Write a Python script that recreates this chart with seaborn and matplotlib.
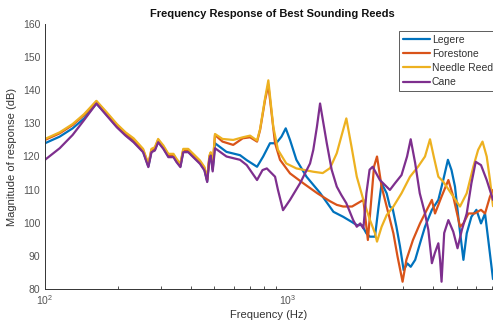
import numpy as np
import pandas as pd
import matplotlib
matplotlib.use("Agg")
import matplotlib.pyplot as plt
import seaborn as sns
from matplotlib.ticker import LogLocator, NullFormatter

# Frequency points (Hz) and magnitudes (dB) for each reed
legere_freq = [100, 115, 130, 145, 163, 180, 198, 215, 232, 254, 267, 275, 284, 293, 308, 323, 339, 349, 362,
               372, 390, 409, 436, 455, 467, 477, 483, 492, 503, 561, 638, 680, 750, 795, 848, 900, 946, 985,
               1026, 1090, 1200, 1365, 1550, 1700, 1840, 1935, 2030, 2120, 2190, 2300, 2380, 2450, 2570, 2650,
               2720, 2820, 2918, 3020, 3130, 3230, 3370, 3529, 3700, 3950, 4200, 4400, 4600, 4760, 4920, 5130,
               5330, 5500, 5750, 6030, 6300, 6545, 6750, 7060]
legere_db = [124, 126, 128.5, 131.5, 136, 132.5, 129, 126.5, 124.5, 121.5, 117, 121.5, 122, 124.5, 122.5, 120,
             120, 118.5, 117, 121.5, 121.5, 120, 118, 116, 112.5, 119.5, 120.5, 116, 124, 121.4, 120.4, 118.9,
             116.9, 120, 124, 124, 126, 128.5, 125, 119, 113.9, 109, 103.3, 101.8, 100.3, 99.3, 99.3, 96.8,
             95.8, 95.8, 104.9, 111.9, 108.9, 104.9, 104.3, 98.8, 92.8, 85.7, 87.7, 86.7, 88.8, 93.8, 98.8,
             103.9, 106.9, 112.9, 119, 115.9, 110.9, 98.8, 88.8, 96.8, 101.8, 103.9, 99.8, 102.8, 94.8, 83]

forestone_freq = [100, 115, 130, 145, 163, 180, 198, 215, 232, 254, 267, 275, 284, 293, 308, 323, 339, 349, 362,
                  372, 390, 409, 436, 455, 467, 477, 483, 492, 503, 540, 598, 655, 702, 750, 772, 809, 835, 890,
                  933, 1026, 1165, 1330, 1500, 1600, 1700, 1850, 2060, 2150, 2280, 2345, 2450, 2570, 2740, 2850,
                  2990, 3100, 3300, 3529, 3700, 3950, 4070, 4330, 4620, 4840, 5160, 5330, 5590, 5930, 6300, 6545,
                  6860, 7060]
forestone_db = [125, 127, 129.5, 132.5, 136.6, 133, 129.5, 127, 125.2, 122, 117.5, 122, 122.5, 125, 123, 120.5,
                120.5, 119, 117.5, 122, 122, 120.5, 118.5, 116.5, 113, 120, 121, 117, 126.5, 124.5, 123.5, 125.5,
                125.8, 124.5, 128, 137, 141.6, 124, 119, 114.9, 111.9, 108.9, 106.5, 105.4, 104.9, 104.9, 106.9,
                94.8, 117, 120, 110.9, 104.9, 96.8, 89.8, 82.2, 88.8, 94.8, 99.8, 102.8, 106.9, 102.8, 107.9,
                112.9, 107.9, 98.8, 99.8, 102.8, 102.8, 103.9, 102.8, 107.9, 109.9]

needle_freq = [100, 115, 130, 145, 163, 180, 198, 215, 232, 254, 267, 275, 284, 293, 308, 323, 339, 349, 362,
               372, 390, 409, 436, 455, 467, 477, 483, 492, 503, 540, 598, 655, 702, 750, 772, 809, 835, 875,
               915, 990, 1090, 1280, 1400, 1501, 1600, 1670, 1752, 1840, 1935, 2060, 2194, 2301, 2345, 2450,
               2570, 2740, 2960, 3209, 3470, 3700, 3880, 4020, 4200, 4400, 4840, 5160, 5500, 5860, 6130, 6390,
               6650, 6860, 7060]
needle_db = [125.3, 127.3, 129.8, 132.8, 136.8, 133.3, 129.8, 127.3, 125.5, 122.3, 117.8, 122.3, 122.8, 125.3,
             123.3, 120.8, 120.8, 119.3, 117.8, 122.3, 122.3, 120.8, 118.8, 116.8, 113.3, 120.3, 121.3, 117.3,
             126.8, 125.3, 125, 125.8, 126.3, 124.8, 128.3, 137.5, 143, 129, 122, 117.9, 116.4, 115.4, 115,
             116.5, 121, 126, 131.5, 123, 113.9, 106.9, 100.8, 96.8, 94.3, 98.8, 102.3, 104.9, 108.9, 113.9,
             117, 120, 125.2, 120, 113.9, 112.4, 107.9, 104.9, 108.9, 117, 122, 124.5, 120, 112.9, 105]

cane_freq = [100, 115, 130, 145, 163, 180, 198, 215, 232, 254, 267, 275, 284, 293, 308, 323, 339, 349, 362,
             372, 390, 409, 436, 455, 467, 477, 483, 492, 503, 561, 638, 680, 750, 790, 823, 890, 915, 960,
             1026, 1128, 1241, 1280, 1325, 1365, 1455, 1524, 1600, 1670, 1752, 1870, 1935, 2000, 2060, 2120,
             2185, 2250, 2410, 2650, 2780, 2960, 3120, 3230, 3370, 3520, 3700, 3820, 3950, 4060, 4200, 4270,
             4330, 4440, 4620, 4840, 5040, 5250, 5500, 5750, 5990, 6300, 6650, 7060]
cane_db = [119, 122.5, 126.5, 131, 136, 132.3, 128.8, 126.3, 124.3, 121.3, 116.8, 121.3, 121.8, 124.3, 122.3,
           119.8, 119.8, 118.3, 116.8, 121.3, 121.3, 119.8, 117.8, 115.8, 112.3, 119.3, 120.3, 115.5, 122.5,
           120, 119, 117.4, 112.9, 115.9, 116.4, 113.9, 109.9, 103.8, 106.9, 111.9, 117.9, 122, 129, 136, 124,
           116, 110.9, 108.4, 105.9, 100.8, 98.8, 99.8, 98.3, 108.9, 116, 116.9, 112.9, 109.9, 111.9, 114.4,
           120, 125.2, 118, 108.9, 102.8, 97.8, 87.8, 90.8, 93.8, 88.8, 82.2, 96.9, 100.8, 97.3, 92.3, 97.8,
           102.8, 111.9, 118.4, 117.4, 112.9, 106.9]

names = ["Legere", "Forestone", "Needle Reed", "Cane"]
colors = ["#0072BD", "#D95319", "#EDB120", "#7E2F8E"]

frames = []
for name, f, db in zip(names,
                       [legere_freq, forestone_freq, needle_freq, cane_freq],
                       [legere_db, forestone_db, needle_db, cane_db]):
    frames.append(pd.DataFrame({"Frequency": f, "Magnitude": db, "Reed": name}))
df = pd.concat(frames, ignore_index=True)

sns.set_theme(style="white")
plt.rcParams["font.family"] = ["Liberation Sans", "DejaVu Sans"]

fig = plt.figure(figsize=(4.93, 3.26), dpi=100)
ax = fig.add_axes([45 / 493, 1 - 289 / 326, 1 - 45 / 493, (289 - 24) / 326])

sns.lineplot(data=df, x="Frequency", y="Magnitude", hue="Reed", hue_order=names,
             palette=colors, estimator=None, sort=False, linewidth=1.6, ax=ax)

ax.set_xscale("log")
ax.set_xlim(100, 7060)
ax.set_ylim(80, 160)
ax.set_yticks(np.arange(80, 161, 10))
ax.xaxis.set_major_locator(LogLocator(base=10))
ax.xaxis.set_minor_locator(LogLocator(base=10, subs=np.arange(2, 10)))
ax.xaxis.set_minor_formatter(NullFormatter())

grey = "#555555"
for side in ["top", "right"]:
    ax.spines[side].set_visible(False)
for side in ["left", "bottom"]:
    ax.spines[side].set_color("#333333")
    ax.spines[side].set_linewidth(0.7)
ax.tick_params(axis="both", which="both", direction="in", colors="#333333", labelcolor=grey,
               labelsize=7.5, width=0.6)
ax.tick_params(axis="both", which="major", length=3.5)
ax.tick_params(axis="x", which="minor", length=2.5, bottom=True)
ax.tick_params(axis="x", which="major", pad=3)

ax.set_xlabel("Frequency (Hz)", fontsize=8, color="#333333", labelpad=2)
ax.set_ylabel("Magnitude of response (dB)", fontsize=8, color="#333333", labelpad=4)
fig.text(272 / 493, 1 - 14 / 326, "Frequency Response of Best Sounding Reeds",
         ha="center", va="center", fontsize=8, fontweight="bold", color="#111111")

leg = ax.legend(loc="upper left", bbox_to_anchor=((399 - 45) / 448, (289 - 31) / 265),
                fontsize=7.5, frameon=True, fancybox=False, borderpad=0.35, handlelength=2.6,
                handletextpad=0.2, labelspacing=0.4, borderaxespad=0)
leg.get_frame().set_edgecolor("#333333")
leg.get_frame().set_linewidth(0.7)
for t in leg.get_texts():
    t.set_color("#333333")

fig.savefig("out.png", dpi=100)
